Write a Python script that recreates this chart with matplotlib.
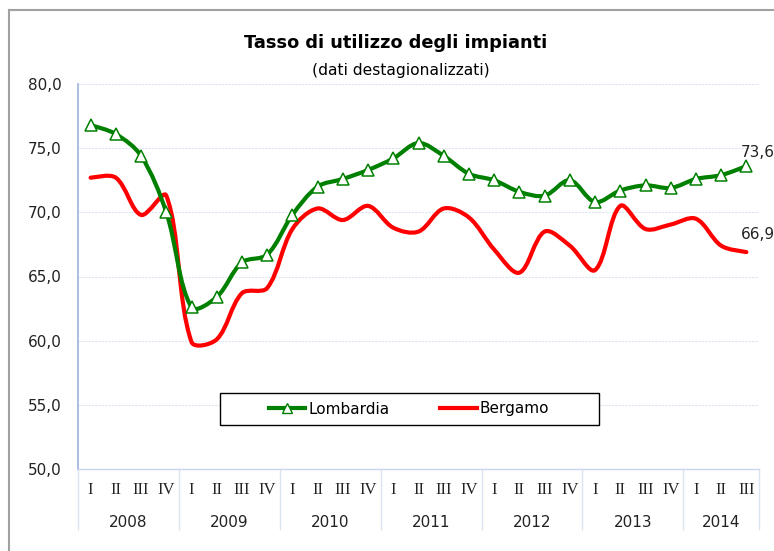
import matplotlib
matplotlib.use('Agg')
import matplotlib.pyplot as plt
from matplotlib.path import Path
from matplotlib.patches import PathPatch, Rectangle
from matplotlib.lines import Line2D
import matplotlib.transforms as mtransforms

quarters = ['I', 'II', 'III', 'IV'] * 6 + ['I', 'II', 'III']
years = ['2008', '2009', '2010', '2011', '2012', '2013', '2014']
lombardia = [76.8, 76.1, 74.4, 70.0, 62.6, 63.4, 66.1, 66.7, 69.8, 72.0, 72.6, 73.3,
             74.2, 75.4, 74.4, 73.0, 72.5, 71.6, 71.3, 72.5, 70.8, 71.7, 72.1, 71.9,
             72.6, 72.9, 73.6]
bergamo = [72.7, 72.7, 69.8, 71.3, 59.9, 60.1, 63.7, 64.1, 68.7, 70.3, 69.4, 70.5,
           68.8, 68.5, 70.3, 69.6, 67.1, 65.3, 68.5, 67.4, 65.5, 70.5, 68.7, 69.05,
           69.5, 67.4, 66.9]

GREEN = '#008000'
RED = '#FF0000'
GRID = '#9DB3DE'

# pixel size of one x unit and one y unit (used only for the smoothing shape)
SX, SY = 25.2, 12.84


def smooth_path(xs, ys):
    # smoothed line: Bezier with tangents scaled by neighbouring chord lengths
    n = len(xs)
    px = [v * SX for v in xs]
    py = [v * SY for v in ys]
    d = [((px[i + 1] - px[i]) ** 2 + (py[i + 1] - py[i]) ** 2) ** 0.5 for i in range(n - 1)]

    def tangent(i):
        a = max(i - 1, 0)
        b = min(i + 1, n - 1)
        return px[b] - px[a], py[b] - py[a]

    verts = [(xs[0], ys[0])]
    codes = [Path.MOVETO]
    for i in range(n - 1):
        t0 = tangent(i)
        t1 = tangent(i + 1)
        dl = d[i - 1] if i > 0 else d[i]
        dr = d[i + 1] if i + 1 < n - 1 else d[i]
        f0 = d[i] / (dl + d[i]) / 3 if i > 0 else 1 / 6
        f1 = d[i] / (d[i] + dr) / 3 if i + 1 < n - 1 else 1 / 6
        c1 = ((px[i] + t0[0] * f0) / SX, (py[i] + t0[1] * f0) / SY)
        c2 = ((px[i + 1] - t1[0] * f1) / SX, (py[i + 1] - t1[1] * f1) / SY)
        verts += [c1, c2, (xs[i + 1], ys[i + 1])]
        codes += [Path.CURVE4] * 3
    return Path(verts, codes)


W, H = 774, 551
fig = plt.figure(figsize=(W / 100, H / 100), dpi=100)
ax = fig.add_axes([78 / W, (H - 469) / H, 681 / W, 385 / H])

x = list(range(len(quarters)))

ax.add_patch(PathPatch(smooth_path(x, bergamo), fill=False, edgecolor=RED, lw=3, zorder=3,
                       capstyle='round'))
ax.add_patch(PathPatch(smooth_path(x, lombardia), fill=False, edgecolor=GREEN, lw=3, zorder=4,
                       capstyle='round'))
ax.plot(x, lombardia, linestyle='none', marker='^', markersize=8, markerfacecolor='white',
        markeredgecolor=GREEN, markeredgewidth=1.1, zorder=5)

ax.set_xlim(-0.5, len(quarters) - 0.5)
ax.set_ylim(50, 80)
ax.set_yticks([50, 55, 60, 65, 70, 75, 80])
ax.set_yticklabels([f'{v:.1f}'.replace('.', ',') for v in [50, 55, 60, 65, 70, 75, 80]],
                   fontsize=11, color='#222222')
ax.tick_params(axis='y', length=0, pad=12)
ax.grid(axis='y', color='#DCE4F2', lw=0.8, linestyle=(0, (2, 1)))
ax.set_axisbelow(True)

ax.set_xticks(x)
ax.set_xticklabels(quarters, fontsize=12, family='Liberation Serif', color='#222222')
ax.tick_params(axis='x', which='major', length=0, pad=9)
ax.set_xticks([i * 4 - 0.5 for i in range(7)] + [len(quarters) - 0.5], minor=True)
ax.tick_params(axis='x', which='minor', length=44, color='#DCE4F2', width=1)

trans = mtransforms.blended_transform_factory(ax.transData, ax.transAxes)
for k, yr in enumerate(years):
    start = k * 4 - 0.5
    end = min(k * 4 + 3.5, len(quarters) - 0.5)
    ax.text((start + end) / 2, -0.138, yr, transform=trans, ha='center', va='center',
            fontsize=11, color='#222222')

for side in ['top', 'right']:
    ax.spines[side].set_visible(False)
ax.spines['left'].set_color(GRID)
ax.spines['left'].set_linewidth(1.2)
ax.spines['bottom'].set_color('#C9D6EE')
ax.spines['bottom'].set_linewidth(1)

ax.annotate('73,6', xy=(x[-1], lombardia[-1]), xytext=(8, 10), textcoords='offset points',
            ha='center', va='center', fontsize=11, color='#222222')
ax.annotate('66,9', xy=(x[-1], bergamo[-1]), xytext=(8, 13), textcoords='offset points',
            ha='center', va='center', fontsize=11, color='#222222')

# legend box
ax.add_patch(Rectangle(((220 - 78) / 681, (469 - 425) / 385), 379 / 681, 32 / 385,
                       transform=ax.transAxes, fill=True, facecolor='white',
                       edgecolor='black', lw=1, zorder=6))
handles = [Line2D([], [], color=GREEN, lw=3, marker='^', markersize=7,
                  markerfacecolor='white', markeredgecolor=GREEN),
           Line2D([], [], color=RED, lw=3)]
leg = ax.legend(handles, ['Lombardia', 'Bergamo'], loc='center',
                bbox_to_anchor=((409 - 78) / 681, (469 - 409) / 385), ncol=2,
                frameon=False, fontsize=11, handlelength=2.4, handletextpad=0.2,
                columnspacing=3.3)
leg.set_zorder(7)

fig.text(396 / W, 1 - 43 / H, 'Tasso di utilizzo degli impianti', ha='center', va='center',
         fontsize=12.8, fontweight='bold')
fig.text(401 / W, 1 - 70 / H, '(dati destagionalizzati)', ha='center', va='center',
         fontsize=11.2)

fig.patches.append(Rectangle((9 / W, -0.1), 1.2, 1 - 10 / H + 0.1, transform=fig.transFigure,
                             fill=False, edgecolor='#A0A0A0', lw=1.5))

fig.savefig('out.png', dpi=100)
